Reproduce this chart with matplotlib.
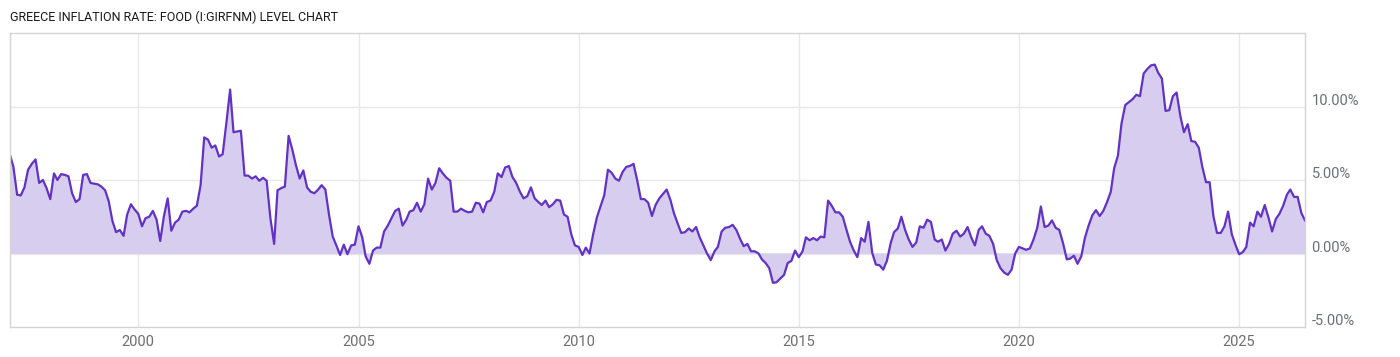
import numpy as np
import pandas as pd
import matplotlib
matplotlib.use("Agg")
import matplotlib.pyplot as plt
import matplotlib.dates as mdates

title = "GREECE INFLATION RATE: FOOD (I:GIRFNM) LEVEL CHART"
start_month = "1997-02-01"

# monthly values, %
values = [
    6.70, 5.91, 4.00, 3.95, 4.50, 5.70, 6.10, 6.40, 4.80, 5.00, 4.45, 3.70,
    5.45, 5.00, 5.40, 5.35, 5.25, 4.10, 3.50, 3.70, 5.35, 5.40, 4.80, 4.75,
    4.70, 4.55, 4.30, 3.55, 2.20, 1.45, 1.60, 1.20, 2.65, 3.35, 3.00, 2.70,
    1.85, 2.40, 2.50, 2.90, 2.30, 0.85, 2.55, 3.75, 1.55, 2.10, 2.30, 2.85,
    2.90, 2.80, 3.05, 3.25, 4.65, 7.90, 7.75, 7.20, 7.35, 6.60, 6.75, 8.90,
    11.15, 8.25, 8.30, 8.35, 5.30, 5.30, 5.10, 5.25, 4.95, 5.15, 4.95, 2.40,
    0.65, 4.30, 4.45, 4.55, 8.00, 7.10, 6.00, 5.10, 5.65, 4.50, 4.20, 4.10,
    4.35, 4.65, 4.35, 2.65, 1.15, 0.55, -0.10, 0.60, -0.05, 0.55, 0.60, 1.85,
    1.10, -0.20, -0.70, 0.20, 0.40, 0.40, 1.50, 1.90, 2.40, 2.90, 3.05, 1.90,
    2.30, 2.85, 2.95, 3.45, 2.85, 3.35, 5.10, 4.35, 4.80, 5.80, 5.45, 5.15,
    4.95, 2.85, 2.85, 3.05, 2.90, 2.80, 2.85, 3.45, 3.40, 2.80, 3.50, 3.60,
    4.20, 5.45, 5.20, 5.85, 5.95, 5.20, 4.80, 4.20, 3.75, 3.90, 4.50, 3.75,
    3.50, 3.30, 3.60, 3.15, 3.35, 3.65, 3.60, 2.65, 2.50, 1.30, 0.55, 0.45,
    -0.10, 0.40, 0.00, 1.30, 2.45, 3.20, 3.95, 5.70, 5.50, 5.10, 4.95, 5.55,
    5.90, 5.95, 6.10, 5.00, 3.70, 3.70, 3.45, 2.55, 3.30, 3.75, 4.05, 4.35,
    3.65, 2.75, 2.05, 1.40, 1.45, 1.70, 1.50, 1.80, 1.10, 0.55, 0.00, -0.45,
    0.15, 0.45, 1.50, 1.75, 1.80, 1.95, 1.60, 1.00, 0.50, 0.65, 0.15, 0.15,
    0.00, -0.40, -0.65, -1.00, -2.00, -1.95, -1.70, -1.45, -0.65, -0.50, 0.20, -0.25,
    0.15, 1.10, 0.90, 1.05, 0.90, 1.15, 1.10, 3.60, 3.25, 2.80, 2.80, 2.50,
    1.60, 0.80, 0.20, -0.25, 1.05, 0.80, 2.15, 0.05, -0.75, -0.80, -1.10, -0.50,
    0.70, 1.45, 1.70, 2.50, 1.60, 0.95, 0.45, 0.75, 1.85, 1.75, 2.30, 2.15,
    0.95, 0.80, 0.95, 0.20, 0.65, 1.35, 1.55, 1.15, 1.35, 1.80, 1.10, 0.55,
    1.60, 1.85, 1.35, 1.20, 0.65, -0.45, -1.00, -1.30, -1.45, -1.10, 0.00, 0.45,
    0.35, 0.25, 0.35, 0.95, 1.75, 3.20, 1.80, 1.90, 2.25, 1.75, 1.60, 0.70,
    -0.40, -0.35, -0.15, -0.70, -0.20, 1.05, 1.90, 2.60, 2.95, 2.55, 2.90, 3.50,
    4.20, 5.80, 6.65, 8.85, 10.10, 10.30, 10.50, 10.80, 10.70, 12.25, 12.55, 12.80,
    12.85, 12.30, 11.90, 9.70, 9.75, 10.70, 10.95, 9.35, 8.25, 8.80, 7.65, 7.60,
    7.20, 5.90, 4.85, 4.85, 2.55, 1.40, 1.40, 1.85, 2.85, 1.30, 0.60, -0.05,
    0.10, 0.45, 2.10, 1.85, 2.85, 2.50, 3.30, 2.45, 1.50, 2.35, 2.70, 3.25,
    4.00, 4.35, 3.85, 3.85, 2.75, 2.25,
]
y_ticks = [-5, 0, 5, 10]
y_labels = ["-5.00%", "0.00%", "5.00%", "10.00%"]

dates = pd.date_range(start_month, periods=len(values), freq="MS")
vals = np.array(values)

plt.rcParams["font.family"] = ["Roboto", "DejaVu Sans"]

fig = plt.figure(figsize=(14, 3.57), dpi=100)
ax = fig.add_axes([10 / 1400, 1 - 327 / 357, 1295 / 1400, 294 / 357])

line_color = "#6232c6"
ax.fill_between(dates, 0, vals, color="#d7cdef", linewidth=0)
ax.plot(dates, vals, color=line_color, linewidth=1.6)

ax.set_xlim(dates[0], dates[-1])
ax.set_ylim(-5, 15)

ax.xaxis.set_major_locator(mdates.YearLocator(5))
ax.xaxis.set_major_formatter(mdates.DateFormatter("%Y"))
ax.set_yticks([0, 5, 10])
ax.yaxis.set_ticklabels([])
ax.grid(True, color="#e8e8e8", linewidth=1)
ax.axhline(0, color="#dcdcdc", linewidth=1.3, zorder=0.5)
ax.set_axisbelow(True)
ax.tick_params(axis="both", length=0)
ax.tick_params(axis="x", labelsize=10.5, labelcolor="#6e6e6e", pad=6)
ax.tick_params(axis="y", left=False, right=False, labelleft=False)

for side in ["top", "bottom", "left", "right"]:
    ax.spines[side].set_color("#d4d4d4")
    ax.spines[side].set_linewidth(1)

for t, lab in zip(y_ticks, y_labels):
    ax.text(1.005, t - 0.1, lab, transform=ax.get_yaxis_transform(), ha="left",
            va="bottom", fontsize=10.5, color="#6b6f78")

fig.text(10 / 1400, 1 - 17 / 357, title, ha="left", va="center",
         fontsize=9, color="#1a1a1a")

fig.savefig("out.png", dpi=100)
